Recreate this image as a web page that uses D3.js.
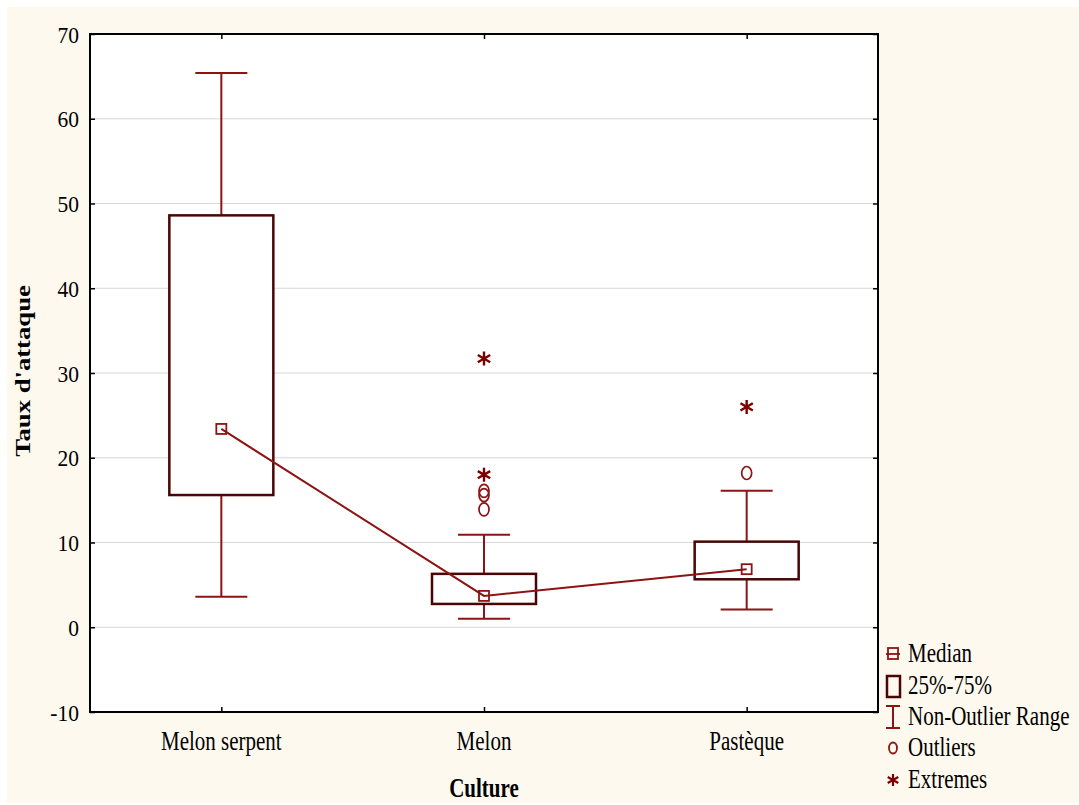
<!DOCTYPE html>
<html>
<head>
<meta charset="utf-8">
<script src="https://cdn.jsdelivr.net/npm/d3@7"></script>
<style>
  html, body { margin: 0; padding: 0; background: #ffffff; }
  svg { display: block; }
  text { font-family: "Liberation Serif", "Times New Roman", serif; fill: #000; }
</style>
</head>
<body>
<svg id="chart" width="1079" height="805"></svg>
<script>
// Box-plot summary per crop
const categories = ["Melon serpent", "Melon", "Pastèque"];
const medians    = [23.4, 3.7, 6.85];
const q1         = [15.6, 2.75, 5.66];
const q3         = [48.6, 6.3, 10.1];
const whiskerLow = [3.6, 1.0, 2.1];
const whiskerHigh= [65.4, 10.9, 16.1];
const outliers   = [[], [13.9, 15.6, 16.1], [18.2]];
const extremes   = [[], [18.0, 31.7], [26.0]];
const yTicks     = [-10, 0, 10, 20, 30, 40, 50, 60, 70];
const legendItems = ["Median", "25%-75%", "Non-Outlier Range", "Outliers", "Extremes"];

const svg = d3.select("#chart");
const W = 1079, H = 805;
const m = { left: 90, top: 34, right: 878, bottom: 712 };

const cRed = "#8c1414", cBox = "#4a0505", cExt = "#7a0000";
const sY = 1.26; // tall, narrow lettering

// page background
svg.append("rect").attr("x", 0).attr("y", 0).attr("width", W).attr("height", H).attr("fill", "#ffffff");
svg.append("rect").attr("x", 7).attr("y", 7).attr("width", W - 7).attr("height", 796).attr("fill", "#fdf9ef");
svg.append("rect").attr("x", m.left).attr("y", m.top)
  .attr("width", m.right - m.left).attr("height", m.bottom - m.top).attr("fill", "#ffffff");

const x = d3.scalePoint().domain(categories).range([m.left, m.right]).padding(0.5);
const y = d3.scaleLinear().domain([-10, 70]).range([m.bottom, m.top]);

// horizontal grid
svg.append("g").selectAll("line").data(yTicks.filter(t => t > -10 && t < 70)).join("line")
  .attr("x1", m.left).attr("x2", m.right)
  .attr("y1", d => y(d)).attr("y2", d => y(d))
  .attr("stroke", "#d8d8d8").attr("stroke-width", 1);

// axes (ticks pointing inward)
const axL = svg.append("g").attr("transform", `translate(${m.left},0)`)
  .call(d3.axisRight(y).tickValues(yTicks).tickSize(5).tickFormat(""));
const axR = svg.append("g").attr("transform", `translate(${m.right},0)`)
  .call(d3.axisLeft(y).tickValues(yTicks).tickSize(5).tickFormat(""));
const axB = svg.append("g").attr("transform", `translate(0,${m.bottom})`)
  .call(d3.axisTop(x).tickSize(5).tickFormat(""));
const axT = svg.append("g").attr("transform", `translate(0,${m.top})`)
  .call(d3.axisBottom(x).tickSize(5).tickFormat(""));
[axL, axR, axB, axT].forEach(g => {
  g.select(".domain").remove();
  g.selectAll("line").attr("stroke", "#000").attr("stroke-width", 1.5);
});

// frame
svg.append("rect").attr("x", m.left).attr("y", m.top)
  .attr("width", m.right - m.left).attr("height", m.bottom - m.top)
  .attr("fill", "none").attr("stroke", "#000").attr("stroke-width", 2);

// tick labels
svg.append("g").selectAll("text").data(yTicks).join("text")
  .attr("transform", d => `translate(79,${y(d) + 8.5}) scale(1,1.12)`)
  .attr("text-anchor", "end").attr("font-size", 21.5)
  .text(d => d);
svg.append("g").selectAll("text").data(categories).join("text")
  .attr("transform", d => `translate(${x(d)},750) scale(1,${sY})`)
  .attr("text-anchor", "middle").attr("font-size", 21)
  .text(d => d);

// axis titles
svg.append("text").attr("transform", `translate(484,797) scale(1,${sY})`).attr("text-anchor", "middle")
  .attr("font-size", 21).attr("font-weight", "bold").text("Culture");
svg.append("text").attr("transform", `translate(30,371) scale(1,1.27) rotate(-90)`)
  .attr("text-anchor", "middle").attr("font-size", 21).attr("font-weight", "bold")
  .text("Taux d'attaque");

const boxHalf = 52, capHalf = 26;
const g = svg.append("g");
const star = "M0,-7V7M-6.2,-3.6L6.2,3.6M-6.2,3.6L6.2,-3.6";

categories.forEach((c, i) => {
  const cx = x(c);
  // whiskers
  g.append("line").attr("x1", cx).attr("x2", cx).attr("y1", y(q3[i])).attr("y2", y(whiskerHigh[i]))
    .attr("stroke", cRed).attr("stroke-width", 2);
  g.append("line").attr("x1", cx).attr("x2", cx).attr("y1", y(q1[i])).attr("y2", y(whiskerLow[i]))
    .attr("stroke", cRed).attr("stroke-width", 2);
  [whiskerHigh[i], whiskerLow[i]].forEach(v => {
    g.append("line").attr("x1", cx - capHalf).attr("x2", cx + capHalf)
      .attr("y1", y(v)).attr("y2", y(v)).attr("stroke", cRed).attr("stroke-width", 2);
  });
  // box
  g.append("rect").attr("x", cx - boxHalf).attr("y", y(q3[i]))
    .attr("width", boxHalf * 2).attr("height", y(q1[i]) - y(q3[i]))
    .attr("fill", "#ffffff").attr("stroke", cBox).attr("stroke-width", 2.5);
  // outliers
  outliers[i].forEach(v => {
    g.append("ellipse").attr("cx", cx).attr("cy", y(v)).attr("rx", 5).attr("ry", 6.5)
      .attr("fill", "none").attr("stroke", cRed).attr("stroke-width", 1.7);
  });
  // extremes
  extremes[i].forEach(v => {
    g.append("path").attr("transform", `translate(${cx},${y(v)})`)
      .attr("d", star).attr("stroke", cExt).attr("stroke-width", 2.4).attr("fill", "none");
  });
});

// median connecting line
g.append("path").datum(categories.map((c, i) => [x(c), y(medians[i])]))
  .attr("d", d3.line()).attr("fill", "none").attr("stroke", cRed).attr("stroke-width", 2);
categories.forEach((c, i) => {
  g.append("rect").attr("x", x(c) - 5).attr("y", y(medians[i]) - 5)
    .attr("width", 10).attr("height", 10)
    .attr("fill", "none").attr("stroke", cRed).attr("stroke-width", 1.8);
});

// legend
const lg = svg.append("g");
const lx = 893, rows = [654, 686, 717, 748, 780];
legendItems.forEach((t, i) => {
  lg.append("text").attr("transform", `translate(908,${rows[i] + 8}) scale(1,${sY})`)
    .attr("font-size", 21).text(t);
});
// median symbol
lg.append("rect").attr("x", lx - 5).attr("y", rows[0] - 6).attr("width", 10).attr("height", 11)
  .attr("fill", "none").attr("stroke", cRed).attr("stroke-width", 1.8);
lg.append("line").attr("x1", lx - 7).attr("x2", lx + 7).attr("y1", rows[0]).attr("y2", rows[0])
  .attr("stroke", cRed).attr("stroke-width", 1.8);
// box symbol
lg.append("rect").attr("x", lx - 6).attr("y", rows[1] - 10).attr("width", 13).attr("height", 21)
  .attr("fill", "none").attr("stroke", cBox).attr("stroke-width", 2.5);
// range symbol
lg.append("path").attr("d", `M${lx - 7},${rows[2] - 11}H${lx + 7}M${lx},${rows[2] - 11}V${rows[2] + 11}M${lx - 7},${rows[2] + 11}H${lx + 7}`)
  .attr("stroke", cRed).attr("stroke-width", 2).attr("fill", "none");
// outlier symbol
lg.append("ellipse").attr("cx", lx).attr("cy", rows[3]).attr("rx", 4).attr("ry", 5.5)
  .attr("fill", "none").attr("stroke", cRed).attr("stroke-width", 1.8);
// extreme symbol
lg.append("path").attr("transform", `translate(${lx},${rows[4]}) scale(0.85)`)
  .attr("d", star).attr("stroke", cExt).attr("stroke-width", 2.6).attr("fill", "none");
</script>
</body>
</html>
